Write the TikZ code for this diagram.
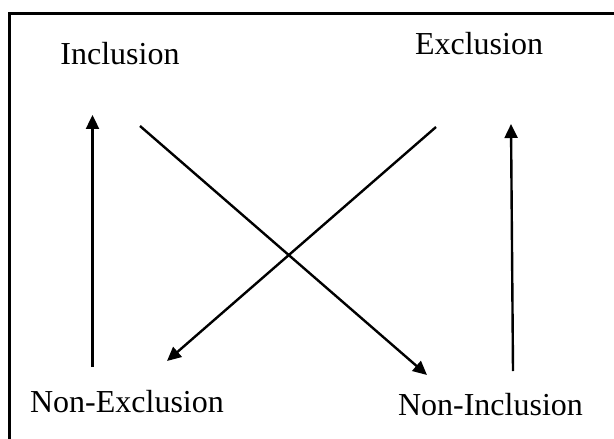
\documentclass[tikz,border=0pt]{standalone}
\usepackage{fontspec}
\setmainfont{Liberation Serif}
\usetikzlibrary{arrows.meta}
\begin{document}
\begin{tikzpicture}[x=0.5pt,y=-0.5pt,
  lbl/.style={inner sep=0pt,anchor=base,font=\fontsize{16}{18}\selectfont},
  arr/.style={line width=1.2pt,-{Triangle[length=7pt,width=6.5pt]}}]
\useasboundingbox (0,0) rectangle (614,438);
\clip (0,0) rectangle (614,438);
\draw[line width=1.1pt] (9.5,13.5) rectangle (700,520);
\node[lbl] (inc) at (120,65) {Inclusion};
\node[lbl] (exc) at (479,55) {Exclusion};
\node[lbl] (nexc) at (127,412) {Non-Exclusion};
\node[lbl] (ninc) at (490.5,415) {Non-Inclusion};
\coordinate (a1) at (92.5,367);
\coordinate (a2) at (92.5,115);
\coordinate (b1) at (513,371);
\coordinate (b2) at (511,124);
\coordinate (c1) at (140,126);
\coordinate (c2) at (427,375);
\coordinate (d1) at (436,127);
\coordinate (d2) at (167,361);
\draw[arr] (a1) -- (a2);
\draw[arr] (b1) -- (b2);
\draw[arr] (c1) -- (c2);
\draw[arr] (d1) -- (d2);
\end{tikzpicture}
\end{document}
